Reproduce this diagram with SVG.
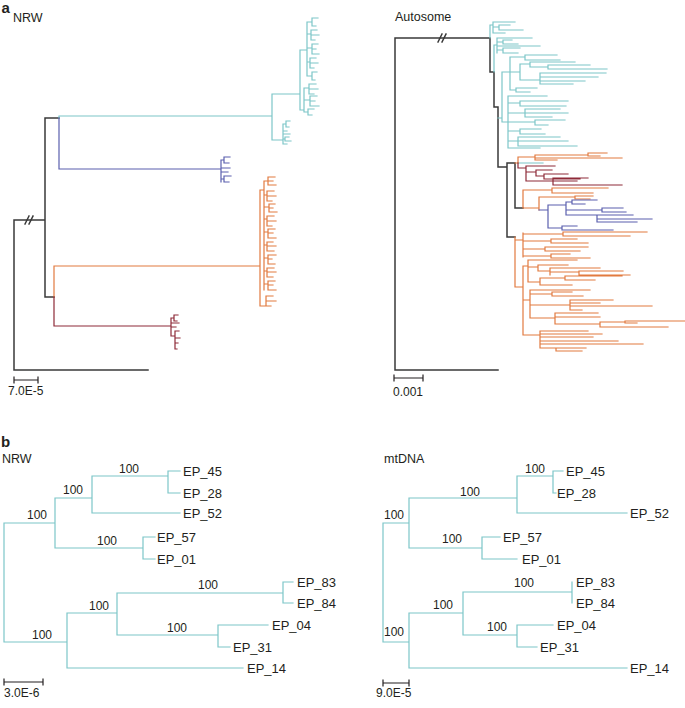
<svg xmlns="http://www.w3.org/2000/svg" width="685" height="708" viewBox="0 0 685 708">
<style>
text{font-family:"Liberation Sans",Arial,sans-serif;fill:#231f20}
.t{font-size:12.5px}
.p{font-size:15px;font-weight:bold}
.l{font-size:13px}
.n{font-size:12px}
.s{font-size:12px}
path{fill:none;stroke-linecap:square}
.k{stroke:#3a3a3a;stroke-width:1.5}
.c{stroke:#7cc6c8;stroke-width:1.2}
.b{stroke:#5a5fae;stroke-width:1.2}
.o{stroke:#e27a3f;stroke-width:1.2}
.r{stroke:#8e2a38;stroke-width:1.2}
.bar{stroke:#231f20;stroke-width:1.2}
</style>
<rect width="685" height="708" fill="#fff"/>
<text class="p" x="1.5" y="13">a</text>
<text class="p" x="1" y="447">b</text>
<text class="t" x="13" y="22">NRW</text>
<text class="t" x="395" y="21">Autosome</text>
<text class="t" x="2" y="463">NRW</text>
<text class="t" x="384" y="463">mtDNA</text>

<g id="connectors">
<g id="nrw-a">
<path class="k" d="M14,220 V370 M14,370 H148 M14,220 H45 M45,118 V297 M45,118 H59 M45,297 H54"/>
<path class="k" d="M25,224 L29,216 M29,224 L33,216"/>
<path class="c" d="M59,116 V118 M59,116 H272 M272,94 V140 M272,94 H300 M300,50 V110 M300,50 H307 M307,22 V76
M307,22 H312 M312,18 V26 M312,18 H318 M312,26 H316
M307,34 H311 M311,30 V40 M311,30 H317 M311,35 H319 M311,40 H315
M307,48 H312 M312,44 V54 M312,44 H318 M312,49 H316 M312,54 H319
M307,62 H310 M310,58 V68 M310,58 H316 M310,63 H318 M310,68 H314
M307,76 H312 M312,72 V80 M312,72 H317 M312,80 H315
M300,110 H304 M304,88 V112
M304,88 H309 M309,84 V94 M309,84 H316 M309,89 H318 M309,94 H314
M304,100 H310 M310,96 V106 M310,96 H317 M310,101 H315 M310,106 H319
M304,112 H308 M308,109 V115 M308,109 H314 M308,115 H312
M272,140 H283 M283,124 V144
M283,124 H286 M286,121 V127 M286,121 H290 M286,127 H289
M283,131 H287 M283,134 H290
M283,139 H285 M285,137 V141 M285,137 H289 M285,141 H291
M283,144 H287"/>
<path class="b" d="M59,118 V169 M59,169 H221 M221,160 V182
M221,160 H224 M224,157 V163 M224,157 H230 M224,163 H229
M221,168 H230 M221,172 H228
M221,179 H224 M224,176 V182 M224,176 H231 M224,182 H229"/>
<path class="o" d="M54,297 V266 M54,266 H260 M260,190 V306 M260,190 H264 M264,181 V290 M260,306 H266 M266,296 V306
M264,181 H268 M268,177 V185 M268,177 H275 M268,181 H273 M268,185 H276
M264,195 H267 M267,191 V201 M267,191 H274 M267,196 H276 M267,201 H272
M264,207 H269 M269,204 V212 M269,204 H275 M269,208 H273 M269,212 H277
M264,219 H267 M267,216 V226 M267,216 H274 M267,221 H276 M267,226 H272
M264,232 H268 M268,229 V238 M268,229 H275 M268,233 H273 M268,238 H276
M264,245 H267 M267,242 V251 M267,242 H273 M267,246 H276 M267,251 H274
M264,258 H268 M268,255 V264 M268,255 H276 M268,259 H272 M268,264 H275
M264,271 H267 M267,268 V277 M267,268 H274 M267,272 H276 M267,277 H273
M264,284 H268 M268,281 V290 M268,281 H275 M268,285 H273 M268,290 H276
M266,296 H273 M266,301 H276 M266,306 H271"/>
<path class="r" d="M54,297 V326 M54,326 H171 M171,318 V336 M171,318 H174 M174,315 V321 M174,315 H178 M174,321 H177 M171,323 H179 M171,327 H176 M171,336 H175 M175,331 V349 M175,331 H179 M175,338 H180 M175,343 H178 M175,349 H177"/>
</g>

<g id="autosome-a">
<path class="k" d="M395,38 V370 M395,370 H498 M395,38 H490 M490,38 V72 M490,72 H494 M494,72 V107 M494,107 H498 M498,107 V167 M498,167 H507 M507,163 V237 M507,163 H515 M515,163 V208 M515,208 H523 M507,237 H515"/>
<path class="k" d="M438,42 L442,34 M442,42 L446,34"/>
<path class="c" d="M490,25 V38
M490,25 H493 M493,22 V33 M493,22 H515 M493,27 H499 M499,25 V30 M499,25 H510 M499,30 H523 M493,33 H505
M494,45 V72 M494,45 H497 M497,38 V53 M497,38 H532 M497,42 H503 M503,40 V44 M503,40 H512 M503,44 H518 M497,46 H540 M497,50 H503 M503,48 V53 M503,48 H520 M503,53 H518
M498,118 H502 M502,72 V122
M502,72 H510 M510,57 V90
M510,57 H525 M525,55 V60 M525,55 H557 M525,60 H560
M510,72 H520 M520,64 V80
M520,64 H530 M530,62 V67 M530,62 H575 M530,67 H548 M548,65 V69 M548,65 H590 M548,69 H607
M520,80 H540 M540,73 V84 M540,73 H606 M540,77 H598 M540,81 H585 M540,84 H573
M510,90 H516 M516,88 V92 M516,88 H537 M516,92 H530
M502,122 H508 M508,96 V148
M508,96 H547
M508,103 H520 M520,101 V106 M520,101 H568 M520,106 H566
M508,113 H525 M525,109 V117 M525,109 H560 M525,113 H568 M525,117 H552
M508,122 H535 M535,120 V125 M535,120 H565 M535,125 H548
M508,131 H520 M520,129 V134 M520,129 H541 M520,134 H545
M508,141 H518 M518,137 V146 M518,137 H560 M518,141 H568 M518,146 H577
M508,148 H540
M518,163 H543"/>
<path class="o" d="M515,163 H518 M518,157 V163 M518,157 H535 M535,155 V160 M535,155 H588 M588,153 V156 M588,153 H607 M588,156 H600 M535,158 H622 M535,160 H557
M523,190 V208
M523,190 H552 M552,188 V193 M552,188 H608 M552,193 H593
M523,208 H539 M539,197 V210 M539,197 H575 M575,196 V199 M575,196 H593 M575,199 H590
M515,237 V287
M515,240 H523 M523,233 V257
M523,234 H563 M563,232 V236 M563,232 H647 M563,236 H630
M523,241 H551 M551,239 V243 M551,239 H577 M551,243 H588
M523,249 H545 M545,247 V251 M545,247 H588 M545,251 H580
M523,256 H551 M551,254 V258 M551,254 H570 M551,258 H590
M515,287 H523 M523,266 V335
M523,266 H528 M528,260 V282
M528,260 H577
M528,267 H538 M538,265 V271 M538,265 H568 M538,271 H550 M550,268 V275 M550,268 H600 M550,272 H579 M579,271 V275 M579,271 H623 M579,275 H630
M528,282 H540 M540,278 V285 M540,278 H565 M565,276 V280 M565,276 H622 M565,280 H595 M540,285 H572
M523,300 H530 M530,290 V318
M530,290 H590
M530,294 H552 M552,292 V296 M552,292 H572 M552,296 H583
M530,305 H570 M570,300 V310 M570,300 H613 M570,303 H600 M570,306 H652 M570,310 H582
M530,318 H555 M555,313 V324 M555,313 H598 M555,317 H600 M555,324 H600 M600,322 V327 M600,322 H625 M625,321 V323 M625,321 H685 M625,323 H637 M600,327 H668
M523,335 H540 M540,331 V348
M540,331 H588 M540,334 H602 M540,337 H593 M540,341 H618 M540,344 H643 M540,348 H556 M556,348 V351 M556,348 H586 M556,351 H582"/>
<path class="r" d="M518,163 V168 M518,168 H526 M526,166 V181
M526,166 H555
M526,172 H536 M536,170 V176 M536,170 H552 M536,176 H544 M544,174 V179 M544,174 H568 M544,179 H580
M526,181 H553 M553,178 V185 M553,178 H588 M553,181 H577 M553,185 H622"/>
<path class="b" d="M539,210 H548 M548,205 V228
M548,205 H566 M566,202 V215
M566,202 H572 M572,200 V204 M572,200 H597 M572,204 H585
M566,210 H602 M602,208 V212 M602,208 H623 M602,212 H626
M566,215 H597 M597,215 V222 M597,215 H633 M597,219 H652 M597,222 H637
M548,228 H562 M562,226 V230 M562,226 H577 M562,230 H613"/>
</g>

<g id="nrw-b">
<path class="c" d="M4,523 V642
M4,523 H55 M55,498 V548
M55,498 H92 M92,476 V513
M92,476 H168 M168,471 V493 M168,471 H180 M168,493 H180
M92,513 H180
M55,548 H143 M143,537 V559 M143,537 H155 M143,559 H155
M4,642 H67 M67,613 V668
M67,613 H117 M117,593 V635
M117,593 H283 M283,582 V603 M283,582 H293 M283,603 H293
M117,635 H218 M218,625 V647 M218,625 H268 M218,647 H230
M67,668 H243"/>
</g>

<g id="mtdna-b">
<path class="c" d="M383,523 V642
M383,523 H409 M409,498 V548
M409,498 H517 M517,476 V513
M517,476 H553 M553,471 V493 M553,471 H563 M553,493 H556
M517,513 H627
M409,548 H482 M482,537 V559 M482,537 H500 M482,559 H517
M383,642 H409 M409,613 V668
M409,613 H463 M463,592 V635
M463,592 H572 M572,582 V603
M463,635 H517 M517,625 V647 M517,625 H553 M517,647 H537
M409,668 H627"/>
</g>

<g id="scales">
<path class="bar" d="M14,380 H38 M14,377 V383 M38,377 V383"/>
<path class="bar" d="M394,378 H423 M394,375 V381 M423,375 V381"/>
<path class="bar" d="M4,682 H43 M4,679 V685 M43,679 V685"/>
<path class="bar" d="M383,683 H409 M383,680 V686 M409,680 V686"/>
</g>
</g>

<g id="labels">
<text class="s" x="8" y="395">7.0E-5</text>
<text class="s" x="393" y="396">0.001</text>
<text class="s" x="4" y="697">3.0E-6</text>
<text class="s" x="376" y="697">9.0E-5</text>

<g id="leaves-nrw">
<text class="l" x="183" y="475.5">EP_45</text>
<text class="l" x="183" y="497.5">EP_28</text>
<text class="l" x="183" y="517.5">EP_52</text>
<text class="l" x="157" y="541.5">EP_57</text>
<text class="l" x="157" y="563.5">EP_01</text>
<text class="l" x="297" y="586.5">EP_83</text>
<text class="l" x="297" y="607.5">EP_84</text>
<text class="l" x="272" y="629.5">EP_04</text>
<text class="l" x="233" y="651.5">EP_31</text>
<text class="l" x="247" y="672.5">EP_14</text>
<text class="n" x="119" y="473">100</text>
<text class="n" x="63" y="494">100</text>
<text class="n" x="27" y="519">100</text>
<text class="n" x="97" y="545">100</text>
<text class="n" x="198" y="589">100</text>
<text class="n" x="89" y="610">100</text>
<text class="n" x="167" y="632">100</text>
<text class="n" x="32" y="639">100</text>
</g>
<g id="leaves-mt">
<text class="l" x="566" y="475.5">EP_45</text>
<text class="l" x="557" y="497.5">EP_28</text>
<text class="l" x="630" y="517.5">EP_52</text>
<text class="l" x="503" y="541.5">EP_57</text>
<text class="l" x="522" y="563.5">EP_01</text>
<text class="l" x="576" y="586.5">EP_83</text>
<text class="l" x="576" y="607.5">EP_84</text>
<text class="l" x="557" y="629.5">EP_04</text>
<text class="l" x="540" y="651.5">EP_31</text>
<text class="l" x="630" y="672.5">EP_14</text>
<text class="n" x="525" y="473">100</text>
<text class="n" x="460" y="496">100</text>
<text class="n" x="384" y="519">100</text>
<text class="n" x="442" y="543">100</text>
<text class="n" x="514" y="587">100</text>
<text class="n" x="433" y="609">100</text>
<text class="n" x="487" y="631">100</text>
<text class="n" x="384" y="636">100</text>
</g>
</g>
</svg>
